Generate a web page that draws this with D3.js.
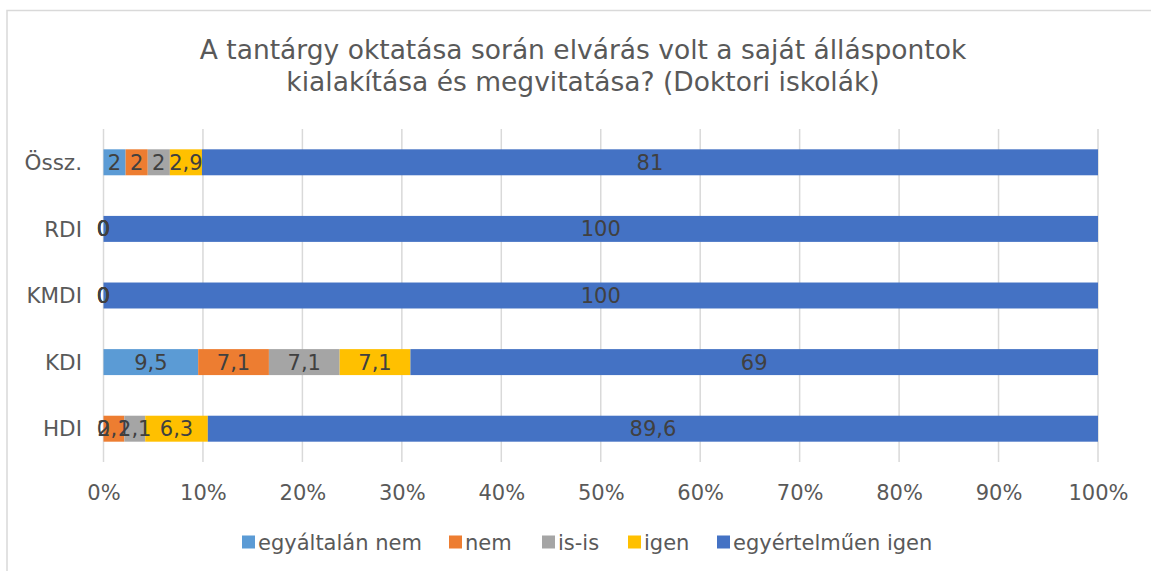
<!DOCTYPE html>
<html>
<head>
<meta charset="utf-8">
<script src="https://cdn.jsdelivr.net/npm/d3@7"></script>
<style>
  body { margin: 0; background: #fff; }
  svg { font-family: "DejaVu Sans", Verdana, sans-serif; }
</style>
</head>
<body>
<div class="chart"></div>
<script>
var categories = ["Össz.", "RDI", "KMDI", "KDI", "HDI"];
var seriesNames = ["egyáltalán nem", "nem", "is-is", "igen", "egyértelműen igen"];
var seriesColors = ["#5b9bd5", "#ed7d31", "#a5a5a5", "#ffc000", "#4472c4"];
var egyaltalanNem = [2, 0, 0, 9.5, 0];
var nem = [2, 0, 0, 7.1, 2.1];
var isIs = [2, 0, 0, 7.1, 2.1];
var igen = [2.9, 0, 0, 7.1, 6.3];
var egyertelmuenIgen = [81, 100, 100, 69, 89.6];
var tickLabels = [0, 0.1, 0.2, 0.3, 0.4, 0.5, 0.6, 0.7, 0.8, 0.9, 1];

var seriesValues = [egyaltalanNem, nem, isIs, igen, egyertelmuenIgen];
var rows = categories.map(function(c, i) {
  var r = { cat: c };
  seriesNames.forEach(function(s, j) { r[s] = seriesValues[j][i]; });
  return r;
});

var svg = d3.select(".chart").append("svg")
  .attr("width", 1151)
  .attr("height", 571);

// chart frame
svg.append("rect")
  .attr("x", 7).attr("y", 10.5)
  .attr("width", 1160).attr("height", 580)
  .attr("fill", "none")
  .attr("stroke", "#d9d9d9")
  .attr("stroke-width", 1.5);

svg.append("text")
  .attr("x", 583).attr("y", 59)
  .attr("text-anchor", "middle")
  .attr("fill", "#595959")
  .attr("font-size", 26.5)
  .text("A tantárgy oktatása során elvárás volt a saját álláspontok");
svg.append("text")
  .attr("x", 583).attr("y", 91)
  .attr("text-anchor", "middle")
  .attr("fill", "#595959")
  .attr("font-size", 26.5)
  .text("kialakítása és megvitatása? (Doktori iskolák)");

var x = d3.scaleLinear().domain([0, 1]).range([103.5, 1098]);
var y = d3.scaleBand().domain(categories).range([129, 462])
  .paddingInner(0.61).paddingOuter(0.305);

var stack = d3.stack().keys(seriesNames).offset(d3.stackOffsetExpand);
var layers = stack(rows);

// gridlines
svg.append("g").selectAll("line")
  .data(tickLabels)
  .join("line")
  .attr("x1", function(d) { return x(d); })
  .attr("x2", function(d) { return x(d); })
  .attr("y1", 129).attr("y2", 462)
  .attr("stroke", "#d9d9d9")
  .attr("stroke-width", 1.5);

var fmt = function(v) { return String(v).replace(".", ","); };

var layerG = svg.append("g").selectAll("g")
  .data(layers)
  .join("g")
  .attr("fill", function(d, i) { return seriesColors[i]; });

layerG.selectAll("rect")
  .data(function(d) { return d; })
  .join("rect")
  .attr("x", function(d) { return x(d[0]); })
  .attr("width", function(d) { return x(d[1]) - x(d[0]); })
  .attr("y", function(d) { return y(d.data.cat); })
  .attr("height", y.bandwidth());

// data labels
layers.forEach(function(layer) {
  svg.append("g").selectAll("text")
    .data(layer)
    .join("text")
    .attr("x", function(d) { return (x(d[0]) + x(d[1])) / 2; })
    .attr("y", function(d) { return y(d.data.cat) + y.bandwidth() / 2; })
    .attr("dy", "0.36em")
    .attr("text-anchor", "middle")
    .attr("font-size", 21)
    .attr("fill", "#404040")
    .text(function(d) { return fmt(d.data[layer.key]); });
});

// category axis labels
svg.append("g").selectAll("text")
  .data(categories)
  .join("text")
  .attr("x", 82)
  .attr("y", function(d) { return y(d) + y.bandwidth() / 2; })
  .attr("dy", "0.36em")
  .attr("text-anchor", "end")
  .attr("font-size", 21.5)
  .attr("fill", "#595959")
  .text(function(d) { return d; });

// x axis
var xAxis = d3.axisBottom(x)
  .tickValues(tickLabels)
  .tickFormat(d3.format(".0%"))
  .tickSize(0)
  .tickPadding(0);
var ax = svg.append("g")
  .attr("transform", "translate(0,500)")
  .call(xAxis);
ax.select(".domain").remove();
ax.selectAll("text")
  .attr("font-size", 21)
  .attr("fill", "#595959")
  .attr("font-family", "DejaVu Sans, Verdana, sans-serif")
  .attr("y", 0)
  .attr("dy", 0);

// legend
var legendX = [242, 449, 542, 628, 717];
var legend = svg.append("g").selectAll("g")
  .data(seriesNames)
  .join("g")
  .attr("transform", function(d, i) { return "translate(" + legendX[i] + ",542)"; });
legend.append("rect")
  .attr("x", 0).attr("y", -6.5)
  .attr("width", 13).attr("height", 13)
  .attr("fill", function(d, i) { return seriesColors[i]; });
legend.append("text")
  .attr("x", 16)
  .attr("dy", "0.36em")
  .attr("font-size", 21)
  .attr("fill", "#595959")
  .text(function(d) { return d; });
</script>
</body>
</html>
